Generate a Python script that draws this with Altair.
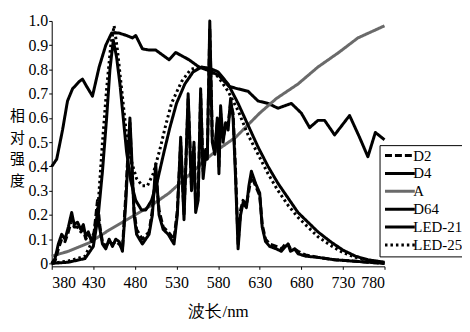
import altair as alt
import pandas as pd

series_names = ["D2", "D4", "A", "D64", "LED-21", "LED-25"]
series_colors = ["black", "black", "#6a6a6a", "black", "black", "black"]
series_dashes = [[7, 3], [1, 0], [1, 0], [1, 0], [1, 0], [2.5, 3]]
series_widths = [3, 3, 3, 3.5, 1.6, 2.6]

x_ticks = [380, 430, 480, 530, 580, 630, 680, 730, 780]
y_ticks = [0, 0.1, 0.2, 0.3, 0.4, 0.5, 0.6, 0.7, 0.8, 0.9, 1.0]

fl_nm = [380, 384, 388, 392, 396, 400, 404, 407, 411, 415, 418, 421, 424, 428, 431, 435, 438, 441,
         445, 449, 453, 457, 461, 465, 469, 472, 474, 476, 479, 482, 489, 497, 501, 505, 509, 514,
         520, 527, 531, 535, 539, 544, 548, 551, 553, 556, 559, 562, 565, 567, 570, 573, 576, 579,
         581, 583, 586, 589, 592, 595, 598, 601, 604, 607, 610, 614, 617, 620, 625, 630, 633, 637,
         642, 650, 656, 661, 664, 667, 672, 676, 685, 700, 720, 740, 760, 780]
d4_val = [0.00, 0.02, 0.08, 0.12, 0.10, 0.15, 0.21, 0.16, 0.17, 0.14, 0.16, 0.11, 0.13, 0.09, 0.11, 0.21, 0.14, 0.08,
          0.06, 0.10, 0.07, 0.10, 0.09, 0.05, 0.25, 0.45, 0.60, 0.45, 0.20, 0.12, 0.08, 0.12, 0.20, 0.41, 0.20, 0.14,
          0.12, 0.08, 0.20, 0.52, 0.18, 0.70, 0.30, 0.50, 0.21, 0.26, 0.72, 0.35, 0.45, 0.43, 1.00, 0.50, 0.45, 0.60,
          0.37, 0.65, 0.50, 0.58, 0.55, 0.68, 0.60, 0.35, 0.06, 0.20, 0.25, 0.23, 0.32, 0.38, 0.33, 0.29, 0.15, 0.09,
          0.07, 0.06, 0.05, 0.07, 0.08, 0.05, 0.06, 0.04, 0.03, 0.025, 0.015, 0.01, 0.005, 0.00]
d2_val = [0.00, 0.01, 0.06, 0.10, 0.09, 0.13, 0.18, 0.15, 0.15, 0.13, 0.14, 0.10, 0.12, 0.10, 0.13, 0.26, 0.15, 0.09,
          0.07, 0.09, 0.08, 0.09, 0.08, 0.06, 0.28, 0.48, 0.58, 0.42, 0.22, 0.14, 0.10, 0.13, 0.22, 0.38, 0.22, 0.15,
          0.13, 0.10, 0.22, 0.50, 0.20, 0.68, 0.32, 0.48, 0.24, 0.28, 0.70, 0.38, 0.47, 0.45, 0.97, 0.52, 0.47, 0.58,
          0.40, 0.62, 0.52, 0.56, 0.57, 0.66, 0.62, 0.38, 0.08, 0.22, 0.26, 0.24, 0.30, 0.36, 0.32, 0.28, 0.16, 0.10,
          0.08, 0.07, 0.06, 0.08, 0.08, 0.06, 0.06, 0.05, 0.035, 0.025, 0.015, 0.01, 0.005, 0.00]

a_nm = [380, 400, 425, 450, 475, 500, 521, 550, 569, 580, 601, 630, 650, 676, 700, 725, 748, 780]
a_val = [0.03, 0.05, 0.085, 0.14, 0.19, 0.24, 0.29, 0.38, 0.44, 0.47, 0.52, 0.62, 0.68, 0.74, 0.81, 0.87, 0.93, 0.98]

d64_nm = [380, 386, 393, 399, 405, 413, 417, 422, 429, 437, 445, 452, 461, 470, 477, 481, 489, 497, 505,
          513, 521, 529, 537, 545, 557, 569, 581, 593, 604, 616, 628, 640, 652, 668, 680, 690, 700, 708,
          720, 738, 750, 760, 769, 780]
d64_val = [0.40, 0.43, 0.55, 0.67, 0.72, 0.75, 0.76, 0.73, 0.69, 0.81, 0.90, 0.95, 0.95, 0.94, 0.93, 0.94, 0.885, 0.88, 0.88,
           0.86, 0.84, 0.87, 0.855, 0.84, 0.81, 0.795, 0.775, 0.73, 0.72, 0.71, 0.67, 0.66, 0.64, 0.66, 0.62, 0.56, 0.59, 0.59,
           0.53, 0.61, 0.52, 0.44, 0.54, 0.51]

led21_nm = [380, 400, 420, 430, 436, 441, 446, 450, 454, 458, 462, 466, 470, 475, 481, 488, 493, 500, 507,
            515, 522, 530, 540, 550, 560, 570, 580, 592, 604, 616, 628, 640, 652, 664, 676, 688, 700, 715,
            730, 745, 760, 780]
led21_val = [0.00, 0.005, 0.02, 0.07, 0.20, 0.38, 0.60, 0.80, 0.92, 0.85, 0.74, 0.60, 0.46, 0.34, 0.26, 0.22, 0.22, 0.26, 0.34,
             0.46, 0.56, 0.66, 0.74, 0.79, 0.81, 0.805, 0.79, 0.74, 0.66, 0.57, 0.48, 0.40, 0.33, 0.27, 0.21, 0.17, 0.13, 0.09,
             0.055, 0.03, 0.015, 0.005]

led25_nm = [380, 400, 420, 430, 436, 441, 446, 451, 455, 459, 464, 469, 475, 482, 489, 495, 502, 510,
            517, 524, 536, 547, 557, 567, 580, 592, 604, 616, 628, 640, 652, 664, 676, 688, 700, 715,
            730, 745, 760, 780]
led25_val = [0.00, 0.01, 0.03, 0.10, 0.25, 0.50, 0.72, 0.90, 0.98, 0.88, 0.72, 0.56, 0.43, 0.35, 0.32, 0.32, 0.37, 0.47,
             0.57, 0.66, 0.75, 0.80, 0.81, 0.80, 0.77, 0.71, 0.63, 0.53, 0.45, 0.37, 0.30, 0.24, 0.19, 0.15, 0.11, 0.075,
             0.045, 0.025, 0.012, 0.004]

groups = [
    ("D64", d64_nm, d64_val),
    ("A", a_nm, a_val),
    ("LED-21", led21_nm, led21_val),
    ("LED-25", led25_nm, led25_val),
    ("D2", fl_nm, d2_val),
    ("D4", fl_nm, d4_val),
]
rows = []
for name, nms, vals in groups:
    for i, (n, v) in enumerate(zip(nms, vals)):
        rows.append({"series": name, "nm": n, "val": v, "ord": i})
df = pd.DataFrame(rows)

serif = "Liberation Serif"

chart = alt.Chart(df).mark_line(strokeJoin="round").encode(
    x=alt.X("nm:Q",
            scale=alt.Scale(domain=[380, 780], nice=False, zero=False),
            axis=alt.Axis(values=x_ticks, title="波长/nm", format="d",
                          titleFontSize=17, titleFont="Times New Roman", titleFontWeight="normal",
                          titlePadding=13, labelPadding=5)),
    y=alt.Y("val:Q",
            scale=alt.Scale(domain=[-0.012, 1.0], nice=False, zero=False),
            axis=alt.Axis(values=y_ticks, title=["相", "对", "强", "度"],
                          labelExpr="datum.value == 0 ? '0' : format(datum.value, '.1f')",
                          titleAngle=0, titleX=-35, titleY=88, titleBaseline="top",
                          titleAlign="center", titleLineHeight=22, titleFontSize=15,
                          titleFont="Noto Sans CJK SC", titleFontWeight="normal", labelPadding=1)),
    color=alt.Color("series:N", scale=alt.Scale(domain=series_names, range=series_colors),
                    legend=alt.Legend(title=None)),
    strokeDash=alt.StrokeDash("series:N", scale=alt.Scale(domain=series_names, range=series_dashes),
                              legend=alt.Legend(title=None)),
    strokeWidth=alt.StrokeWidth("series:N", scale=alt.Scale(domain=series_names, range=series_widths),
                                legend=alt.Legend(title=None)),
    order="ord:Q",
).properties(
    width=335, height=247,
    autosize=alt.AutoSizeParams(type="none"),
    padding={"left": 44, "top": 12, "right": 78, "bottom": 56},
).configure_view(strokeWidth=0).configure_axis(
    grid=False, domainColor="black", domainWidth=1, tickColor="black", tickSize=3,
    labelColor="black", labelFont=serif, labelFontSize=16, titleColor="black",
).configure_legend(
    orient="none", legendX=330, legendY=125, direction="vertical",
    strokeColor="black", fillColor="white", padding=3,
    symbolType="M-1,0H5", symbolSize=100, labelOffset=16,
    labelFont=serif, labelFontSize=15, labelColor="black", rowPadding=2,
)

chart.save("out.html", embed_options={"renderer": "svg", "actions": False})
